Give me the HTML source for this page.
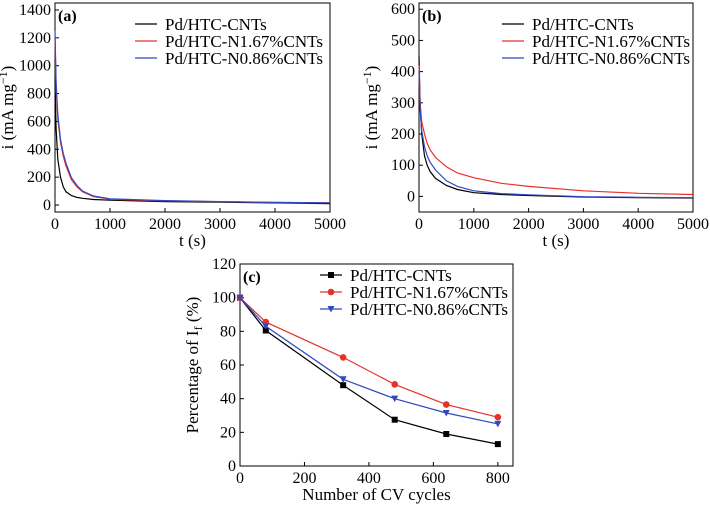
<!DOCTYPE html>
<html><head><meta charset="utf-8"><style>
body{margin:0;background:#fff}
svg{display:block;font-family:"Liberation Serif",serif}
</style></head><body>
<svg id="fig" width="710" height="505"></svg>
<script>
// Panel (a) data
const aTime=[0,20,50,100,150,200,300,400,500,700,1000,1500,2000,3000,4000,5000];
const aBlack=[900,550,330,200,130,95,68,55,48,40,35,30,25,20,15,10];
const aRed=[1200,850,620,450,350,280,180,130,95,60,42,35,30,24,18,15];
const aBlue=[1250,880,650,470,370,300,195,140,100,65,45,38,32,25,19,15];
// Panel (b) data
const bTime=[0,20,50,100,150,200,300,500,700,1000,1500,2000,3000,4000,5000];
const bBlack=[450,300,200,130,100,80,58,35,22,12,6,3,-2,-4,-5];
const bBlue=[400,280,210,160,130,110,85,50,32,18,9,5,-1,-3,-4];
const bRed=[420,300,240,200,170,150,125,95,75,60,42,32,18,10,6];
// Panel (c) data
const cCycles=[0,80,320,480,640,800];
const cBlack=[100,80.5,48,27.5,19,13];
const cRed=[100,85.5,64.5,48.5,36.5,29];
const cBlue=[100,83,51.5,40,31.5,25];
const aYTicks=[0,200,400,600,800,1000,1200,1400];
const bYTicks=[0,100,200,300,400,500,600];
const tXTicks=[0,1000,2000,3000,4000,5000];
const cXTicks=[0,200,400,600,800];
const cYTicks=[0,20,40,60,80,100,120];
const names=["Pd/HTC-CNTs","Pd/HTC-N1.67%CNTs","Pd/HTC-N0.86%CNTs"];
const cols=["#000","#e8302a","#3048c0"];

const svg=document.getElementById('fig');
const NS="http://www.w3.org/2000/svg";
function el(tag,attrs,parent){const e=document.createElementNS(NS,tag);for(const k in attrs)e.setAttribute(k,attrs[k]);(parent||svg).appendChild(e);return e;}
function txt(s,attrs,parent){const e=el('text',attrs,parent);e.textContent=s;return e;}

function panel(o){
  const g=el('g',{});
  
  
  const sx=v=>o.x0+(v-o.xmin)/(o.xmax-o.xmin)*(o.x1-o.x0);
  const sy=v=>o.y1-(v-o.ymin)/(o.ymax-o.ymin)*(o.y1-o.y0);
  const box=el('rect',{x:o.x0,y:o.y0,width:o.x1-o.x0,height:o.y1-o.y0,fill:'none',stroke:'#000','stroke-width':1},g);
  
  
  o.xt.forEach(v=>{const x=sx(v);el('line',{x1:x,x2:x,y1:o.y1,y2:o.y1-4,stroke:'#000'},g);
    const t=txt(String(v),{x:x,y:o.y1+17,'font-size':16,'text-anchor':'middle'},g);
    });
  o.yt.forEach(v=>{const y=sy(v);el('line',{x1:o.x0,x2:o.x0+4,y1:y,y2:y,stroke:'#000'},g);
    const t=txt(String(v),{x:o.x0-4,y:y+5,'font-size':16,'text-anchor':'end'},g);
    });
  const xl=txt(o.xlabel,{x:(o.x0+o.x1)/2,y:o.y1+34,'font-size':17,'text-anchor':'middle'},g);
  
  const ylx=o.x0-42, yly=(o.y0+o.y1)/2;
  const yl=el('text',{x:ylx,y:yly,'font-size':17,'text-anchor':'middle',transform:`rotate(-90 ${ylx} ${yly})`},g);
  yl.innerHTML=o.ylabel;
  
  const pl=txt(o.tag,{x:o.x0+3,y:o.y0+18,'font-size':16,'font-weight':'bold'},g);
  
  o.series.forEach((s,i)=>{
    const d=s.map((v,j)=>(j?'L':'M')+sx(o.xs[j]).toFixed(1)+','+sy(v).toFixed(1)).join('');
    const p=el('path',{d:d,fill:'none',stroke:cols[i],'stroke-width':1.2},g);
    
    if(o.markers){s.forEach((v,j)=>{const cx=sx(o.xs[j]),cy=sy(v);let m;
      if(i==0)m=el('rect',{x:cx-3,y:cy-3,width:6,height:6,fill:cols[i]},g);
      else if(i==1)m=el('circle',{cx:cx,cy:cy,r:3.3,fill:cols[i]},g);
      else m=el('path',{d:`M${cx-3.5},${cy-3}L${cx+3.5},${cy-3}L${cx},${cy+3.5}Z`,fill:cols[i]},g);
      });}
    const ly=o.y0+o.legY+i*17;
    const lg=el('g',{},g);
    
    el('line',{x1:o.legX,x2:o.legX+22,y1:ly,y2:ly,stroke:cols[i],'stroke-width':1.2},lg);
    if(o.markers){const cx=o.legX+11;
      if(i==0)el('rect',{x:cx-3,y:ly-3,width:6,height:6,fill:cols[i]},lg);
      else if(i==1)el('circle',{cx:cx,cy:ly,r:3.3,fill:cols[i]},lg);
      else el('path',{d:`M${cx-3.5},${ly-3}L${cx+3.5},${ly-3}L${cx},${ly+3.5}Z`,fill:cols[i]},lg);}
    txt(names[i],{x:o.legX+30,y:ly+6,'font-size':17},lg);
  });
}
const ylab='i (mA mg<tspan dy="-6" font-size="12">−1</tspan><tspan dy="6">)</tspan>';
panel({id:'panel-a',tag:'(a)',x0:55,x1:330,y0:3,y1:212,xmin:0,xmax:5000,ymin:-50,ymax:1450,
  xt:tXTicks,yt:aYTicks,xs:aTime,series:[aBlack,aRed,aBlue],xlabel:'t (s)',ylabel:ylab,legX:135,legY:21});
panel({id:'panel-b',tag:'(b)',x0:419,x1:693,y0:3,y1:212,xmin:0,xmax:5000,ymin:-50,ymax:620,
  xt:tXTicks,yt:bYTicks,xs:bTime,series:[bBlack,bRed,bBlue],xlabel:'t (s)',ylabel:ylab,legX:502,legY:21});
panel({id:'panel-c',tag:'(c)',x0:240,x1:513,y0:264,y1:466,xmin:0,xmax:847,ymin:0,ymax:120,
  xt:cXTicks,yt:cYTicks,xs:cCycles,series:[cBlack,cRed,cBlue],xlabel:'Number of CV cycles',
  ylabel:'Percentage of I<tspan dy="4" font-size="12">f</tspan><tspan dy="-4"> (%)</tspan>',legX:320,legY:11,markers:true});
</script>
</body></html>
